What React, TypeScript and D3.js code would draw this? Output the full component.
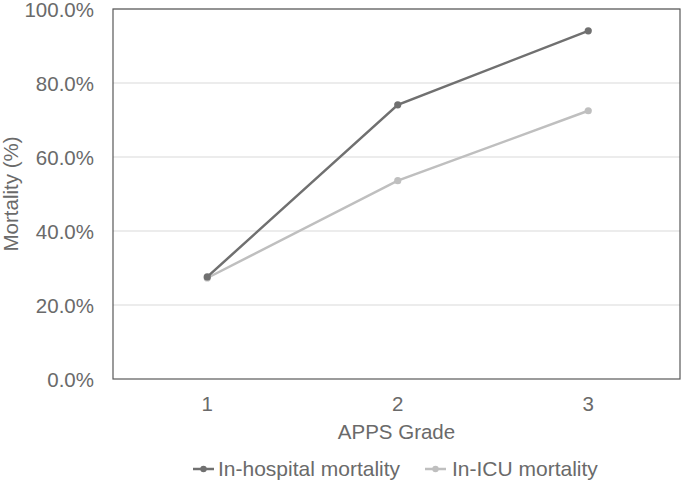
import React from "react";
import * as d3 from "d3";

const grades = ["1", "2", "3"];
const inHospital = [0.276, 0.741, 0.941];
const inICU = [0.273, 0.536, 0.725];
const yTicks = [0, 0.2, 0.4, 0.6, 0.8, 1.0];
const seriesNames = ["In-hospital mortality", "In-ICU mortality"];
const seriesColors = ["#707070", "#bfbfbf"];

const W = 685, H = 485;
const L = 113, R = 680, T = 9, B = 379;
const font = "Liberation Sans, Arial, sans-serif";
const textColor = "#6a6a6a";
const fs = 20.5;

export default function App() {
  const x = d3.scaleBand<string>().domain(grades).range([112, 683.5]);
  const y = d3.scaleLinear().domain([0, 1]).range([B, T]);
  const cx = (g: string) => (x(g) as number) + x.bandwidth() / 2;
  const line = d3.line<[string, number]>().x(d => cx(d[0])).y(d => y(d[1]));
  const all = [inHospital, inICU];
  const legendX = [193, 425];
  return (
    <svg width={W} height={H} style={{ position: "absolute", left: 0, top: 0 }}>
      <rect width={W} height={H} fill="#fff" />
      {yTicks.map(t => (
        <g key={t}>
          {t > 0 && <line x1={L} x2={R} y1={y(t)} y2={y(t)} stroke="#d9d9d9" strokeWidth={1} />}
          <text x={L - 19} y={y(t) + 1} dy="0.35em" textAnchor="end" fontFamily={font} fontSize={fs} fill={textColor}>
            {d3.format(".1%")(t)}
          </text>
        </g>
      ))}
      <rect x={L} y={T} width={R - L} height={B - T} fill="none" stroke="#595959" strokeWidth={1.2} />
      {grades.map(g => (
        <text key={g} x={cx(g)} y={404} dy="0.35em" textAnchor="middle" fontFamily={font} fontSize={fs} fill={textColor}>{g}</text>
      ))}
      <text x={(L + R) / 2} y={432} dy="0.35em" textAnchor="middle" fontFamily={font} fontSize={fs} fill={textColor}>APPS Grade</text>
      <text transform={`translate(11,${(T + B) / 2}) rotate(-90)`} dy="0.35em" textAnchor="middle" fontFamily={font} fontSize={fs} fill={textColor}>Mortality (%)</text>
      {[1, 0].map(i => (
        <g key={i}>
          <path d={line(grades.map((g, j) => [g, all[i][j]] as [string, number])) || ""} fill="none" stroke={seriesColors[i]} strokeWidth={2.5} />
          {grades.map((g, j) => (
            <circle key={g} cx={cx(g)} cy={y(all[i][j])} r={3.6} fill={seriesColors[i]} />
          ))}
        </g>
      ))}
      {seriesNames.map((n, i) => {
        const lx = legendX[i];
        return (
          <g key={n}>
            <line x1={lx} x2={lx + 21} y1={469} y2={469} stroke={seriesColors[i]} strokeWidth={2.5} />
            <circle cx={lx + 10.5} cy={469} r={3.2} fill={seriesColors[i]} />
            <text x={i === 0 ? 218 : 452} y={469} dy="0.35em" fontFamily={font} fontSize={21} fill={textColor}>{n}</text>
          </g>
        );
      })}
    </svg>
  );
}
